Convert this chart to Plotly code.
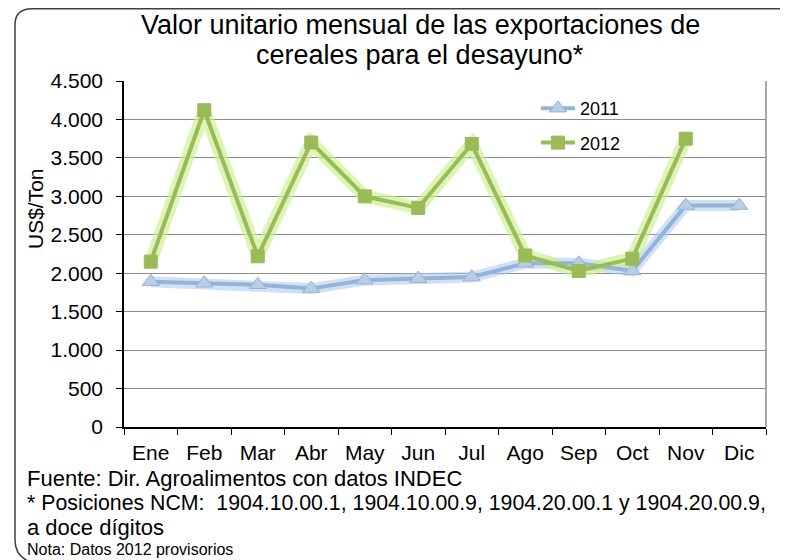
import plotly.graph_objects as go

months = ["Ene", "Feb", "Mar", "Abr", "May", "Jun", "Jul", "Ago", "Sep", "Oct", "Nov", "Dic"]
v2011 = [1890, 1870, 1850, 1800, 1910, 1930, 1950, 2130, 2130, 2030, 2880, 2880]
v2012 = [2150, 4120, 2220, 3700, 3000, 2850, 3680, 2230, 2030, 2190, 3750, None]

# page shows figure with an 8px body offset; work in screen coords and shift
OFF = 8
W, H = 788 - OFF, 560 - OFF
L, R, T, B = 124 - OFF, 766 - OFF, 81 - OFF, 427 - OFF

def px(x):
    return (x - OFF - L) / (R - L)

def py(y):
    return (B - (y - OFF)) / (B - T)

FONT = "Liberation Sans, Arial, sans-serif"

fig = go.Figure()

# glow layers
fig.add_trace(go.Scatter(x=months, y=v2011, mode="lines", line=dict(color="rgba(170,200,240,0.55)", width=11),
                         showlegend=False, hoverinfo="skip"))
fig.add_trace(go.Scatter(x=months, y=v2012, mode="lines", line=dict(color="rgba(200,240,140,0.65)", width=13),
                         showlegend=False, hoverinfo="skip", connectgaps=False))

fig.add_trace(go.Scatter(x=months, y=v2011, mode="lines+markers", name="2011", legendgroup="a",
                         line=dict(color="#95B3D7", width=4),
                         marker=dict(symbol="triangle-up", size=15, color="#B9CDE5",
                                     line=dict(color="#95B3D7", width=1))))
fig.add_trace(go.Scatter(x=months, y=v2012, mode="lines+markers", name="2012", legendgroup="b",
                         line=dict(color="#9BBB59", width=4),
                         marker=dict(symbol="square", size=13, color="#9BBB59",
                                     line=dict(color="#9BBB59", width=1))))

fig.update_layout(
    width=W, height=H,
    margin=dict(l=L, r=W - R, t=T, b=H - B),
    paper_bgcolor="white", plot_bgcolor="white",
    separators=",.",
    font=dict(family=FONT, size=21, color="#000000"),
    showlegend=True,
    legend=dict(x=px(536), y=py(90), xanchor="left", yanchor="top",
                font=dict(size=18, color="#000000"), bgcolor="rgba(0,0,0,0)",
                traceorder="grouped", tracegroupgap=8, itemwidth=34),
    xaxis=dict(type="category", range=[-0.5, 11.5], showline=True, linecolor="#000000", linewidth=1.5,
               ticks="outside", tickson="boundaries", ticklen=6, tickcolor="#000000",
               showgrid=False, tickfont=dict(size=21, color="#000000"), zeroline=False,
               ticklabelstandoff=6),
    yaxis=dict(range=[0, 4500], dtick=500, tickformat=",d", showline=True, linecolor="#000000", linewidth=1.5,
               ticks="outside", ticklen=6, tickcolor="#000000",
               showgrid=True, gridcolor="#8c8c8c", gridwidth=1, zeroline=False,
               tickfont=dict(size=21, color="#000000"), ticklabelstandoff=9),
    shapes=[
        dict(type="line", xref="paper", yref="paper", x0=1, x1=1, y0=0, y1=1,
             line=dict(color="#8c8c8c", width=1.5)),
        dict(type="path", xref="paper", yref="paper",
             path=f"M {px(800)},{py(8.8)} L {px(32)},{py(8.8)} Q {px(15)},{py(8.8)} {px(15)},{py(25)} "
                  f"L {px(15)},{py(540)} Q {px(15)},{py(556)} {px(30)},{py(562)}",
             line=dict(color="#404040", width=1.5)),
    ],
    annotations=[
        dict(text="Valor unitario mensual de las exportaciones de",
             xref="paper", yref="paper", x=px(420), y=py(25), xanchor="center", yanchor="middle",
             showarrow=False, font=dict(size=27, color="#000000")),
        dict(text="cereales para el desayuno*",
             xref="paper", yref="paper", x=px(420), y=py(55), xanchor="center", yanchor="middle",
             showarrow=False, font=dict(size=27, color="#000000")),
        dict(text="US$/Ton", textangle=-90, xref="paper", yref="paper", x=px(35), y=py(209),
             xanchor="center", yanchor="middle", showarrow=False, font=dict(size=21, color="#000000")),
        dict(text="Fuente: Dir. Agroalimentos con datos INDEC", xref="paper", yref="paper",
             x=px(25), y=py(478), xanchor="left", yanchor="middle", showarrow=False,
             font=dict(size=22, color="#000000")),
        dict(text="* Posiciones NCM:  1904.10.00.1, 1904.10.00.9, 1904.20.00.1 y 1904.20.00.9,",
             xref="paper", yref="paper", x=px(25), y=py(503), xanchor="left", yanchor="middle",
             showarrow=False, font=dict(size=21.3, color="#000000")),
        dict(text="a doce dígitos", xref="paper", yref="paper", x=px(25), y=py(527),
             xanchor="left", yanchor="middle", showarrow=False, font=dict(size=22, color="#000000")),
        dict(text="Nota: Datos 2012 provisorios", xref="paper", yref="paper", x=px(25), y=py(549),
             xanchor="left", yanchor="middle", showarrow=False, font=dict(size=16, color="#000000")),
    ],
)

fig.write_html("out.html")
